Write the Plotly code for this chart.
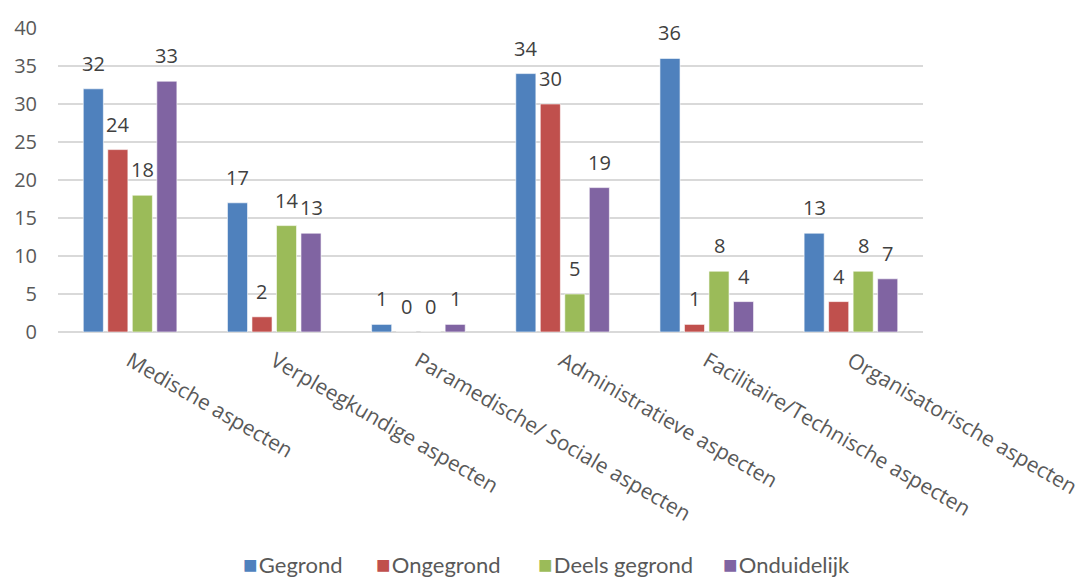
import plotly.graph_objects as go

categories = [
    "Medische aspecten",
    "Verpleegkundige aspecten",
    "Paramedische/ Sociale aspecten",
    "Administratieve aspecten",
    "Facilitaire/Technische aspecten",
    "Organisatorische aspecten",
]
series_names = ["Gegrond", "Ongegrond", "Deels gegrond", "Onduidelijk"]
gegrond = [32, 17, 1, 34, 36, 13]
ongegrond = [24, 2, 0, 30, 1, 4]
deels_gegrond = [18, 14, 0, 5, 8, 8]
onduidelijk = [33, 13, 1, 19, 4, 7]
y_ticks = [0, 5, 10, 15, 20, 25, 30, 35, 40]

series_values = [gegrond, ongegrond, deels_gegrond, onduidelijk]
colors = ["#4F81BD", "#C0504D", "#9BBB59", "#8064A2"]

W, H = 1084, 578
margin = dict(l=58, r=161, t=28, b=246)
plot_w = W - margin["l"] - margin["r"]
plot_h = H - margin["t"] - margin["b"]
cat_w = plot_w / len(categories)
bargap = 0.32
slot_w = cat_w * (1 - bargap) / len(series_names)

tick_font = dict(family="Open Sans", size=20, color="#595959")
cat_font = dict(family="Open Sans", size=21, color="#595959")
label_font = dict(family="Open Sans", size=20, color="#404040")
legend_font = dict(family="Lato", size=22, color="#595959")

fig = go.Figure()
for name, vals, col in zip(series_names, series_values, colors):
    fig.add_trace(go.Bar(
        name=name,
        x=categories,
        y=vals,
        marker=dict(color=col, line=dict(color="rgba(255,255,255,0.6)", width=1)),
        showlegend=False,
    ))

# value labels above each bar
annotations = []
for i, vals in enumerate(series_values):
    xshift = (i - (len(series_names) - 1) / 2) * slot_w
    for cat, v in zip(categories, vals):
        annotations.append(dict(
            x=cat, y=v, xref="x", yref="y",
            text=str(v), showarrow=False,
            xanchor="center", yanchor="bottom",
            xshift=xshift, yshift=10,
            font=label_font,
        ))

# legend row along the bottom: coloured square followed by the series name
legend_left_px = [242, 375, 537, 722]
for name, col, px in zip(series_names, colors, legend_left_px):
    annotations.append(dict(
        x=(px - margin["l"]) / plot_w,
        y=-(H - 1 - (H - margin["b"])) / plot_h,
        xref="paper", yref="paper",
        text=f"<span style='color:{col};font-size:24px'>■</span>&#8202;{name}",
        showarrow=False,
        xanchor="left", yanchor="bottom",
        yshift=-2,
        borderpad=0,
        font=legend_font,
    ))

fig.update_layout(
    width=W, height=H,
    margin=margin,
    barmode="group",
    bargap=bargap,
    bargroupgap=0.18,
    plot_bgcolor="white",
    paper_bgcolor="white",
    annotations=annotations,
    showlegend=False,
)

fig.update_xaxes(
    type="category",
    tickangle=30,
    tickfont=cat_font,
    showgrid=False,
    showline=False,
    ticks="",
    ticklabelstandoff=12,
    automargin=False,
)
fig.update_yaxes(
    range=[0, 40],
    tickvals=y_ticks,
    tickfont=tick_font,
    showgrid=True,
    gridcolor="#D9D9D9",
    gridwidth=1.5,
    zeroline=True,
    zerolinecolor="#D9D9D9",
    zerolinewidth=1.5,
    ticks="",
    ticklabelstandoff=20,
    automargin=False,
)

fig.write_html("out.html")
